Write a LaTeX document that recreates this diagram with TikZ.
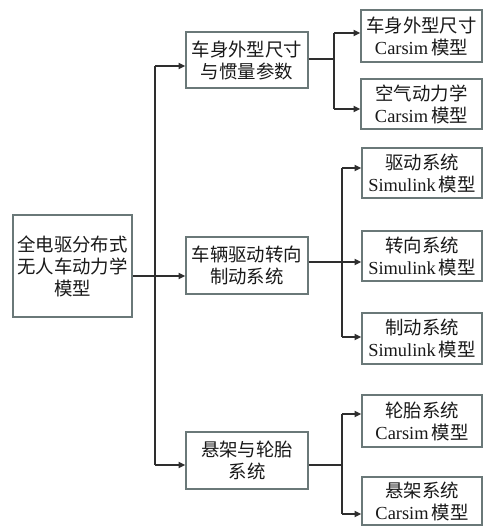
\documentclass[tikz,border=0pt]{standalone}
\usepackage{fontspec}
\setmainfont{Liberation Serif}
\newfontfamily\cjk{Noto Sans CJK SC}
\usetikzlibrary{arrows.meta}
\begin{document}
\begin{tikzpicture}[x=0.75pt,y=-0.75pt,
  box/.style={draw=boxgray,line width=1pt,fill=white,inner sep=0pt,align=center,
    font=\fontsize{13.8}{16.5}\selectfont,text=black!90},
  conn/.style={draw=linegray,line width=1.3pt},
  arr/.style={conn,-{Triangle[length=5pt,width=4.5pt]}}]
\definecolor{boxgray}{HTML}{6A7878}
\definecolor{linegray}{HTML}{2E2E2E}
\useasboundingbox[fill=white] (0,0) rectangle (483,526);
% nodes
\node[box,minimum width=119*0.75pt,minimum height=102*0.75pt] (main) at (72.5,266)
  {{\cjk 全电驱分布式}\\{\cjk 无人车动力学}\\{\cjk 模型}};
\node[box,minimum width=122*0.75pt,minimum height=56*0.75pt] (b1) at (247,60)
  {{\cjk 车身外型尺寸}\\{\cjk 与惯量参数}};
\node[box,minimum width=122*0.75pt,minimum height=57*0.75pt] (b2) at (247,265.5)
  {{\cjk 车辆驱动转向}\\{\cjk 制动系统}};
\node[box,minimum width=122*0.75pt,minimum height=57*0.75pt] (b3) at (247,460.5)
  {{\cjk 悬架与轮胎}\\{\cjk 系统}};
\node[box,minimum width=121*0.75pt,minimum height=52*0.75pt] (r1) at (421.5,36)
  {{\cjk 车身外型尺寸}\\Carsim\,{\cjk 模型}};
\node[box,minimum width=121*0.75pt,minimum height=50*0.75pt] (r2) at (421.5,104)
  {{\cjk 空气动力学}\\Carsim\,{\cjk 模型}};
\node[box,minimum width=120*0.75pt,minimum height=50*0.75pt] (r3) at (422,173)
  {{\cjk 驱动系统}\\Simulink\,{\cjk 模型}};
\node[box,minimum width=120*0.75pt,minimum height=50*0.75pt] (r4) at (422,256)
  {{\cjk 转向系统}\\Simulink\,{\cjk 模型}};
\node[box,minimum width=120*0.75pt,minimum height=51*0.75pt] (r5) at (422,338.5)
  {{\cjk 制动系统}\\Simulink\,{\cjk 模型}};
\node[box,minimum width=120*0.75pt,minimum height=52*0.75pt] (r6) at (422,421)
  {{\cjk 轮胎系统}\\Carsim\,{\cjk 模型}};
\node[box,minimum width=120*0.75pt,minimum height=48*0.75pt] (r7) at (422,501)
  {{\cjk 悬架系统}\\Carsim\,{\cjk 模型}};
% junction coordinates
\coordinate (t1) at (155,66);
\coordinate (t3) at (155,465);
\coordinate (j1) at (334,59);
\coordinate (j2) at (342,262);
\coordinate (j3) at (342,465);
% trunk
\draw[conn] (t1) -- (t3);
\draw[conn] (main.east |- 0,276) -- (t1 |- 0,276);
\draw[arr] (t1) -- (b1.west |- t1);
\draw[arr] (t1 |- 0,276) -- (b2.west |- 0,276);
\draw[arr] (t3) -- (b3.west |- t3);
% branch 1
\draw[conn] (b1.east |- j1) -- (j1);
\draw[conn] (j1 |- 0,33) -- (j1 |- 0,109);
\draw[arr] (j1 |- 0,33) -- (r1.west |- 0,33);
\draw[arr] (j1 |- 0,109) -- (r2.west |- 0,109);
% branch 2
\draw[conn] (b2.east |- j2) -- (j2);
\draw[conn] (j2 |- 0,168) -- (j2 |- 0,337);
\draw[arr] (j2 |- 0,168) -- (r3.west |- 0,168);
\draw[arr] (j2) -- (r4.west |- j2);
\draw[arr] (j2 |- 0,337) -- (r5.west |- 0,337);
% branch 3
\draw[conn] (b3.east |- j3) -- (j3);
\draw[conn] (j3 |- 0,414) -- (j3 |- 0,514);
\draw[arr] (j3 |- 0,414) -- (r6.west |- 0,414);
\draw[arr] (j3 |- 0,514) -- (r7.west |- 0,514);
\end{tikzpicture}
\end{document}
